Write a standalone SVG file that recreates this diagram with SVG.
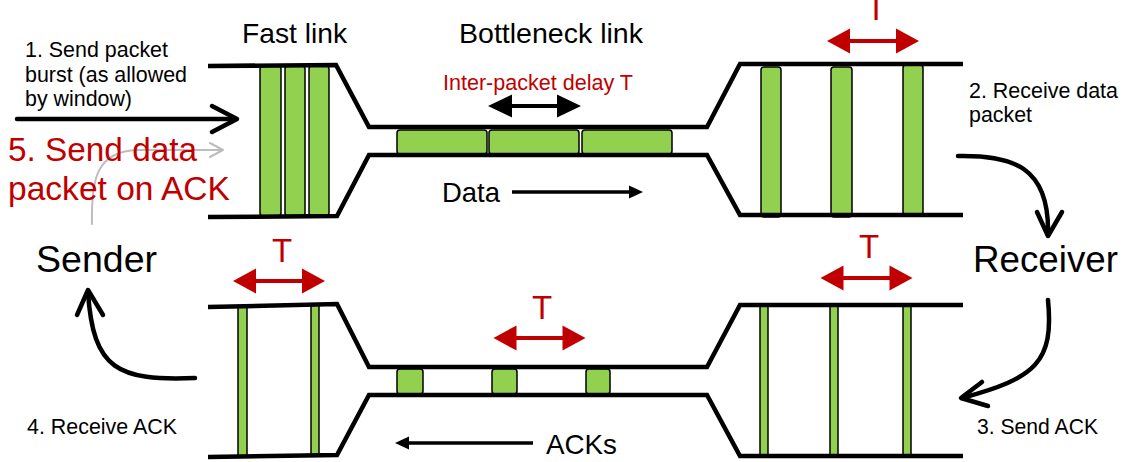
<svg xmlns="http://www.w3.org/2000/svg" width="1124" height="462" viewBox="0 0 1124 462">
<style>
  text { font-family: "Liberation Sans", Arial, Helvetica, sans-serif; fill: #000; }
  .red { fill: #c00000; }
  .small { font-size: 21.4px; }
  .head { font-size: 28.3px; }
  .big { font-size: 37px; }
  .tl { font-size: 33px; fill: #c00000; }
  .pipe { fill: none; stroke: #000; stroke-width: 4.5; stroke-linejoin: miter; }
  .pkt { fill: #92d050; stroke: #000; stroke-width: 1.5; }
  .conn { fill: none; stroke: #000; stroke-width: 4.5; stroke-linecap: round; stroke-linejoin: round; }
  .gray { fill: none; stroke: #bdbdbd; stroke-width: 2; stroke-linecap: round; stroke-linejoin: round; }
</style>
<defs>
  <g id="redArrow">
    <line x1="-25" y1="0" x2="25" y2="0" stroke="#c00000" stroke-width="4"/>
    <polygon points="-46,0 -23,-12.5 -23,12.5" fill="#c00000"/>
    <polygon points="46,0 23,-12.5 23,12.5" fill="#c00000"/>
  </g>
</defs>
<rect width="1124" height="462" fill="#fff"/>

<!-- gray arrow behind text -->
<g id="gray-arrow">
  <path class="gray" d="M92,224 C91,178 97,151 138,150 L222,150"/>
  <polyline class="gray" points="210,143 223,150 210,157"/>
</g>

<g id="data-path">
  <rect class="pkt" x="260" y="66" width="21" height="150" rx="3"/>
  <rect class="pkt" x="285" y="66" width="20" height="150" rx="3"/>
  <rect class="pkt" x="309" y="66" width="20" height="150" rx="3"/>
  <rect class="pkt" x="397" y="130" width="90" height="24" rx="3"/>
  <rect class="pkt" x="489" y="130" width="90" height="24" rx="3"/>
  <rect class="pkt" x="582" y="130" width="90" height="24" rx="3"/>
  <rect class="pkt" x="761" y="67" width="20" height="150" rx="3"/>
  <rect class="pkt" x="831" y="67" width="21" height="150" rx="3"/>
  <rect class="pkt" x="903" y="65" width="20" height="150" rx="3"/>
  <path class="pipe" d="M208,66 L336,65 L369,127 L707,127 L740,64 L963,64"/>
  <path class="pipe" d="M208,217 L337,216 L369,155 L707,155 L740,215 L963,215"/>
</g>

<g id="ack-path">
  <rect class="pkt" x="238" y="306" width="9" height="151"/>
  <rect class="pkt" x="311" y="305" width="8" height="151"/>
  <rect class="pkt" x="397" y="369" width="26" height="25" rx="3"/>
  <rect class="pkt" x="492" y="369" width="25" height="25" rx="3"/>
  <rect class="pkt" x="586" y="369" width="24" height="25" rx="3"/>
  <rect class="pkt" x="760" y="306" width="8" height="151"/>
  <rect class="pkt" x="830" y="306" width="8" height="151"/>
  <rect class="pkt" x="903" y="305" width="8" height="150"/>
  <path class="pipe" d="M208,307 L337,304 L369,367 L707,367 L740,305 L963,305"/>
  <path class="pipe" d="M208,457 L337,455 L369,395 L707,395 L740,456 L963,456"/>
</g>

<g id="labels-links">
  <text class="head" x="242" y="43" textLength="105" lengthAdjust="spacingAndGlyphs">Fast link</text>
  <text class="head" x="459" y="43" textLength="184" lengthAdjust="spacingAndGlyphs">Bottleneck link</text>
  <text class="red" x="443" y="90" font-size="21.5" textLength="190" lengthAdjust="spacingAndGlyphs">Inter-packet delay T</text>
  <text x="442" y="202" font-size="27.5" textLength="58" lengthAdjust="spacingAndGlyphs">Data</text>
  <text x="546" y="454" font-size="28" textLength="71" lengthAdjust="spacingAndGlyphs">ACKs</text>
</g>

<g id="sender">
  <text class="big" x="36" y="272" textLength="121" lengthAdjust="spacingAndGlyphs">Sender</text>
</g>
<g id="receiver">
  <text class="big" x="973" y="272" textLength="145" lengthAdjust="spacingAndGlyphs">Receiver</text>
</g>

<g id="step1">
  <text class="small" x="25" y="57" textLength="143" lengthAdjust="spacingAndGlyphs">1. Send packet</text>
  <text class="small" x="25" y="82" textLength="162" lengthAdjust="spacingAndGlyphs">burst (as allowed</text>
  <text class="small" x="25" y="106" textLength="107" lengthAdjust="spacingAndGlyphs">by window)</text>
</g>
<g id="step2">
  <text class="small" x="969" y="98" textLength="149" lengthAdjust="spacingAndGlyphs">2. Receive data</text>
  <text class="small" x="969" y="122">packet</text>
</g>
<g id="step3">
  <text class="small" x="977" y="434" textLength="121" lengthAdjust="spacingAndGlyphs">3. Send ACK</text>
</g>
<g id="step4">
  <text class="small" x="27" y="434" textLength="150" lengthAdjust="spacingAndGlyphs">4. Receive ACK</text>
</g>
<g id="step5">
  <text class="tl" x="8" y="161" textLength="189" lengthAdjust="spacingAndGlyphs">5. Send data</text>
  <text class="tl" x="8" y="200" textLength="222" lengthAdjust="spacingAndGlyphs">packet on ACK</text>
</g>

<g id="timing">
  <text class="red" x="876" y="20" font-size="33" text-anchor="middle">T</text>
  <use href="#redArrow" transform="translate(873,41)"/>
  <text class="red" x="282" y="262" font-size="33" text-anchor="middle">T</text>
  <use href="#redArrow" transform="translate(279,281)"/>
  <text class="red" x="542" y="319" font-size="33" text-anchor="middle">T</text>
  <use href="#redArrow" transform="translate(539.5,338)"/>
  <text class="red" x="869" y="258" font-size="33" text-anchor="middle">T</text>
  <use href="#redArrow" transform="translate(866.5,278)"/>
</g>

<g id="connectors">
  <!-- step 1 send arrow -->
  <line class="conn" x1="17" y1="119" x2="234" y2="119"/>
  <polyline class="conn" points="212,106 237,119 212,132"/>
  <!-- inter-packet delay double arrow -->
  <line x1="510" y1="106" x2="560" y2="106" stroke="#000" stroke-width="4"/>
  <polygon points="488,106 512,94.5 512,117.5" fill="#000"/>
  <polygon points="581,106 557,94.5 557,117.5" fill="#000"/>
  <!-- data direction -->
  <line x1="512" y1="192" x2="632" y2="192" stroke="#000" stroke-width="3.5"/>
  <polygon points="643,192 629,185.5 629,198.5" fill="#000"/>
  <!-- ack direction -->
  <line x1="533" y1="443" x2="406" y2="443" stroke="#000" stroke-width="3.5"/>
  <polygon points="395,443 409,436.5 409,449.5" fill="#000"/>
  <!-- receive data -> receiver -->
  <path class="conn" d="M958,156 C1012,155 1050,166 1048,235"/>
  <polyline class="conn" points="1037,212 1048,236 1062,212"/>
  <!-- receiver -> send ACK -->
  <path class="conn" d="M1048,300 C1054,362 1036,378 962,398"/>
  <polyline class="conn" points="982,382 961,398 988,406"/>
  <!-- receive ACK -> sender -->
  <path class="conn" d="M195,378 C118,381 93,370 88,292"/>
  <polyline class="conn" points="77,315 88,290 103,315"/>
</g>
</svg>
